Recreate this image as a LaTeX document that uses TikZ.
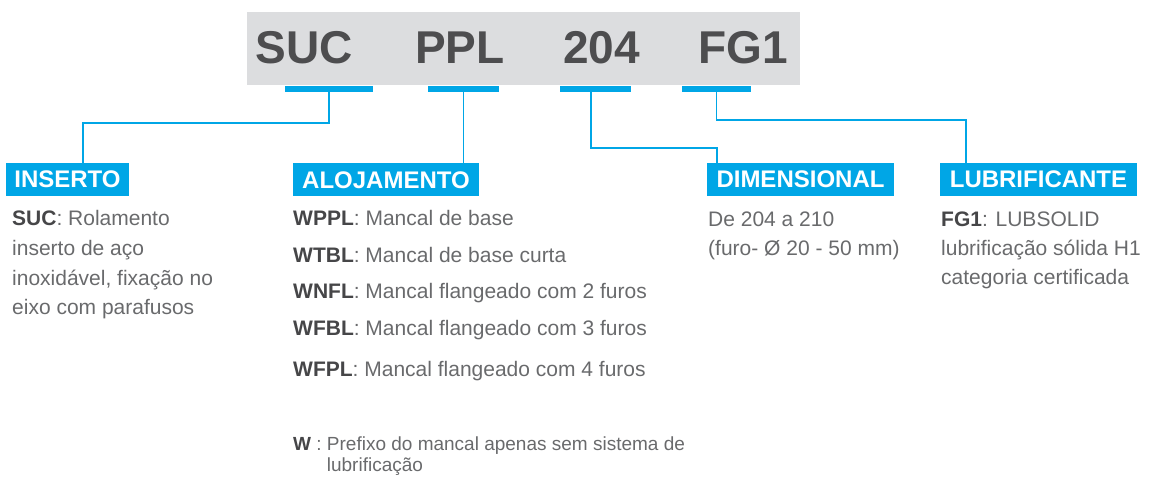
\documentclass[tikz,border=0pt]{standalone}
\usepackage{fontspec}
\setmainfont{Liberation Sans}
\definecolor{cblue}{RGB}{0,166,230}
\definecolor{cgrey}{RGB}{220,221,223}
\definecolor{hdrtxt}{RGB}{77,77,79}
\definecolor{bodytxt}{RGB}{105,106,108}
\definecolor{keytxt}{RGB}{70,70,72}
\newcommand\keyw[1]{\textcolor{keytxt}{\bfseries #1}}
\tikzset{
  hdr/.style={anchor=base, inner sep=0pt, text=hdrtxt, font=\fontsize{46}{46}\selectfont\bfseries},
  codebar/.style={fill=cblue, inner sep=0pt, minimum height=6pt},
  lbl/.style={fill=cblue, text=white, inner sep=0pt, minimum height=33pt, font=\fontsize{24}{24}\selectfont\bfseries},
  body/.style={anchor=base west, inner sep=0pt, text=bodytxt, font=\fontsize{21}{21}\selectfont},
  note/.style={anchor=base west, inner sep=0pt, text=bodytxt, font=\fontsize{19}{19}\selectfont},
  conn/.style={draw=cblue, line width=1.3pt}
}
\begin{document}
\begin{tikzpicture}[x=1pt,y=-1pt]
\useasboundingbox (0,0) rectangle (1157,478);
% code box
\node[fill=cgrey, inner sep=0pt, minimum width=553pt, minimum height=73pt] (code) at (523.5,48.5) {};
\node[hdr] (tSUC) at (304,64) {SUC};
\node[hdr] (tPPL) at (460,64) {PPL};
\node[hdr] (t204) at (601.5,64) {204};
\node[hdr] (tFG1) at (743.5,64) {FG1};
% bars
\node[codebar, minimum width=88pt] (bSUC) at (329,89) {};
\node[codebar, minimum width=71pt] (bPPL) at (463.5,89) {};
\node[codebar, minimum width=71pt] (b204) at (595.5,89) {};
\node[codebar, minimum width=69pt] (bFG1) at (716.5,89) {};
% labels
\node[lbl, minimum width=123pt] (lINS) at (67.5,179.5) {INSERTO};
\node[lbl, minimum width=186pt] (lALO) at (386,180) {ALOJAMENTO};
\node[lbl, minimum width=187pt] (lDIM) at (800.5,179.5) {DIMENSIONAL};
\node[lbl, minimum width=197pt] (lLUB) at (1038.5,179.5) {LUBRIFICANTE};
% bend points
\coordinate (k1) at (83,123);
\coordinate (k3) at (717,148);
\coordinate (k4) at (966,120);
% connectors
\draw[conn] (bSUC.south) |- (k1) -- (k1 |- lINS.north);
\draw[conn] (bPPL.south) -- (bPPL.south |- lALO.north);
\draw[conn] ([xshift=-4.5pt]b204.south) |- (k3) -- (k3 |- lDIM.north);
\draw[conn] (bFG1.south) |- (k4) -- (k4 |- lLUB.north);
% INSERTO text
\node[body] (ins1) at (12,226) {\keyw{SUC}: Rolamento};
\node[body] (ins2) at (12,256) {inserto de aço};
\node[body] (ins3) at (12,285.5) {inoxidável, fixação no};
\node[body] (ins4) at (12,314.5) {eixo com parafusos};
% ALOJAMENTO text
\node[body] (alo1) at (293,226) {\keyw{WPPL}: Mancal de base};
\node[body] (alo2) at (293,262.7) {\keyw{WTBL}: Mancal de base curta};
\node[body] (alo3) at (293,299) {\keyw{WNFL}: Mancal flangeado com 2 furos};
\node[body] (alo4) at (293,336) {\keyw{WFBL}: Mancal flangeado com 3 furos};
\node[body] (alo5) at (293,376.7) {\keyw{WFPL}: Mancal flangeado com 4 furos};
\node[note] (nt1) at (293,450.7) {\keyw{W} : Prefixo do mancal apenas sem sistema de};
\node[note] (nt2) at (326.7,471.5) {lubrificação};
% DIMENSIONAL text
\node[body] (dim1) at (708,226.7) {De 204 a 210};
\node[body] (dim2) at (708,256) {(furo- Ø 20 - 50 mm)};
% LUBRIFICANTE text
\node[body] (lub1) at (941,226.7) {\keyw{FG1}: LUBSOLID};
\node[body] (lub2) at (941,255.5) {lubrificação sólida H1};
\node[body] (lub3) at (941,284.5) {categoria certificada};
\end{tikzpicture}
\end{document}
